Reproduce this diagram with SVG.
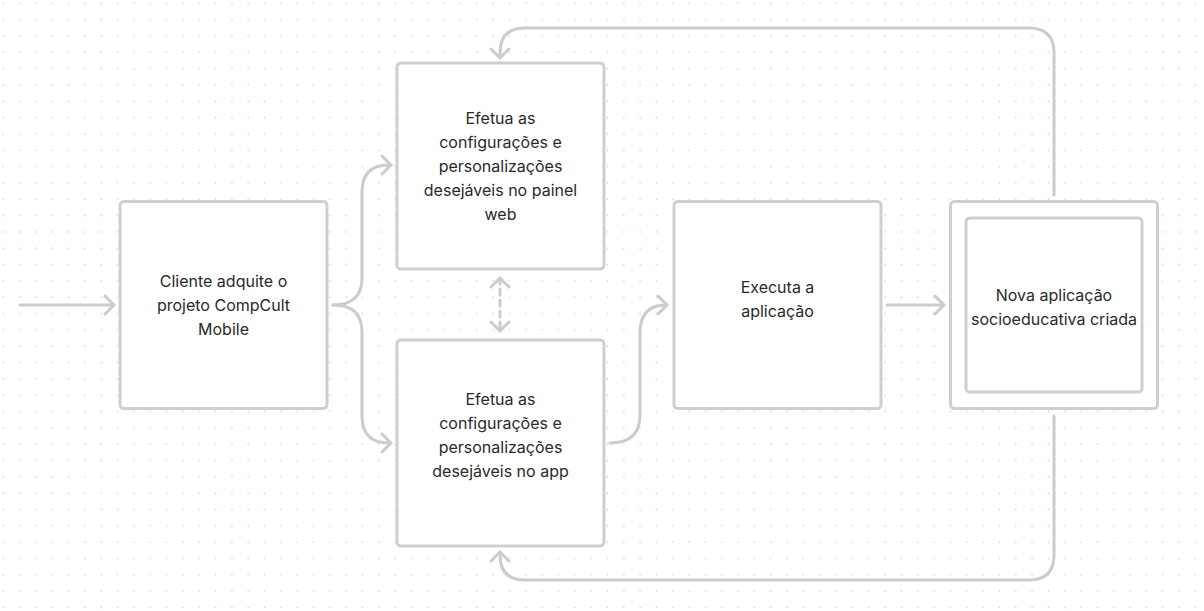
<svg xmlns="http://www.w3.org/2000/svg" width="1204" height="611" viewBox="0 0 1204 611">
<style>
.box{fill:#ffffff;stroke:#cfcfcf;stroke-width:3}
.edge{fill:none;stroke:#cccccc;stroke-width:3;stroke-linecap:round;stroke-linejoin:round}
.lbl{font-family:Inter,"Liberation Sans",sans-serif;font-size:16px;fill:#2a2a2a;text-anchor:middle}
</style>
<defs>
<pattern id="dots" x="0" y="0" width="16.33" height="16.33" patternUnits="userSpaceOnUse">
<circle cx="3.3" cy="3.3" r="0.9" fill="#d4d4d4"/>
</pattern>
<marker id="arr" viewBox="-12 -12 16 24" markerWidth="16" markerHeight="24" refX="0" refY="0" markerUnits="userSpaceOnUse" orient="auto-start-reverse">
<path d="M-9,-9 L0,0 L-9,9" fill="none" stroke="#cccccc" stroke-width="3" stroke-linecap="round" stroke-linejoin="round"/>
</marker>
</defs>
<rect width="1204" height="611" fill="#ffffff"/>
<rect width="1204" height="611" fill="url(#dots)"/>
<g id="connectors">
<path class="edge" d="M20,305 H114" marker-end="url(#arr)"/>
<path class="edge" d="M333,305 Q362,305 362,278 V192 Q362,165 389,165 H391" marker-end="url(#arr)"/>
<path class="edge" d="M333,305 Q362,305 362,332 V416 Q362,443 389,443 H391" marker-end="url(#arr)"/>
<path class="edge" d="M500,278 V331" stroke-dasharray="6,5" marker-start="url(#arr)" marker-end="url(#arr)"/>
<path class="edge" d="M610,443 Q640,443 640,415 V333 Q640,305 666,305 H667" marker-end="url(#arr)"/>
<path class="edge" d="M887,305 H944" marker-end="url(#arr)"/>
<path class="edge" d="M1054,195 V53 Q1054,28 1029,28 H525 Q500,28 500,53 V58" marker-end="url(#arr)"/>
<path class="edge" d="M1054,416 V555 Q1054,580 1029,580 H525 Q500,580 500,555 V552" marker-end="url(#arr)"/>
</g>
<g id="node-cliente">
<rect class="box" x="120" y="201.5" width="207" height="207" rx="4"/>
<text class="lbl" x="223.5" y="287">Cliente adquite o</text>
<text class="lbl" x="223.5" y="311">projeto CompCult</text>
<text class="lbl" x="223.5" y="335">Mobile</text>
</g>
<g id="node-web">
<rect class="box" x="397" y="63" width="207" height="206" rx="4"/>
<text class="lbl" x="500.5" y="124">Efetua as</text>
<text class="lbl" x="500.5" y="148">configurações e</text>
<text class="lbl" x="500.5" y="172">personalizações</text>
<text class="lbl" x="500.5" y="196">desejáveis no painel</text>
<text class="lbl" x="500.5" y="220">web</text>
</g>
<g id="node-app">
<rect class="box" x="397" y="340" width="207" height="206" rx="4"/>
<text class="lbl" x="500.5" y="405">Efetua as</text>
<text class="lbl" x="500.5" y="429">configurações e</text>
<text class="lbl" x="500.5" y="453">personalizações</text>
<text class="lbl" x="500.5" y="477">desejáveis no app</text>
</g>
<g id="node-executa">
<rect class="box" x="674" y="201.5" width="207" height="207" rx="4"/>
<text class="lbl" x="777.5" y="293">Executa a</text>
<text class="lbl" x="777.5" y="317">aplicação</text>
</g>
<g id="node-nova">
<rect class="box" x="950.5" y="201.5" width="207" height="207" rx="4"/>
<rect class="box" x="966" y="218" width="176" height="174" rx="4"/>
<text class="lbl" x="1054" y="301">Nova aplicação</text>
<text class="lbl" x="1054" y="325">socioeducativa criada</text>
</g>
</svg>
